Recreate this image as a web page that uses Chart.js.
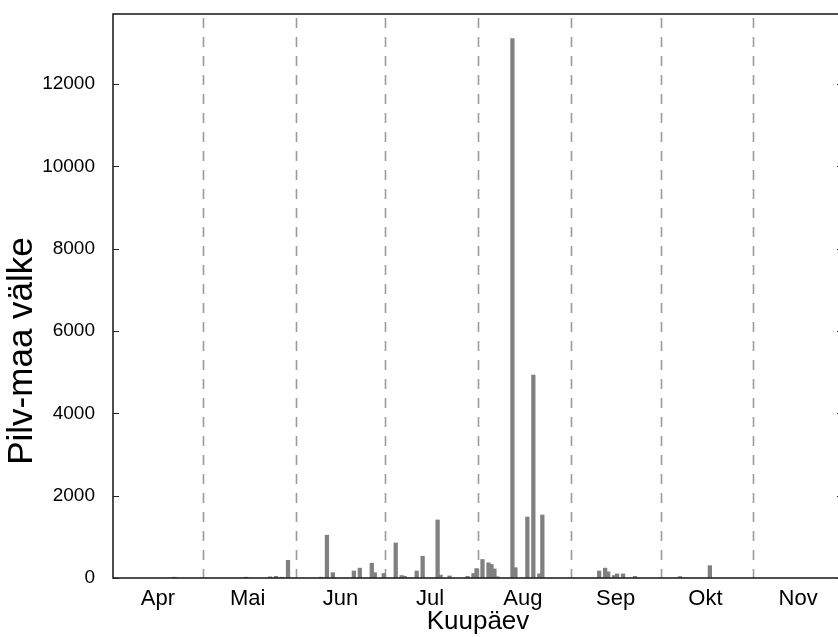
<!DOCTYPE html>
<html>
<head>
<meta charset="utf-8">
<script src="https://cdn.jsdelivr.net/npm/chart.js@4.4.1/dist/chart.umd.min.js"></script>
<style>
  html, body { margin: 0; padding: 0; background: #fff; overflow: hidden; }
  #wrap { width: 844px; height: 637px; }
</style>
</head>
<body>
<div id="wrap"><canvas id="valkChart" width="844" height="637"></canvas></div>
<script>
// Päevad (kuu-päev), millel oli pilv-maa välke
const kuupaevad = [
  '04-21', '05-15', '05-23', '05-25', '05-27', '05-29',
  '06-09', '06-11', '06-13', '06-20', '06-22', '06-26', '06-27', '06-30',
  '07-04', '07-06', '07-07', '07-11', '07-13', '07-18', '07-19', '07-22',
  '07-28', '07-30', '07-31',
  '08-02', '08-04', '08-05', '08-06', '08-07', '08-12', '08-13', '08-17',
  '08-19', '08-21', '08-22',
  '09-10', '09-12', '09-13', '09-15', '09-16', '09-18', '09-22',
  '10-07', '10-17'
];
const valked = [
  20, 20, 30, 40, 20, 430,
  20, 1040, 130, 170, 240, 360, 130, 110,
  850, 60, 40, 170, 530, 1410, 70, 50,
  40, 110, 230,
  450, 370, 330, 220, 30, 13100, 250, 1480,
  4930, 100, 1530,
  170, 240, 150, 60, 100, 100, 40,
  35, 300
];

// Kuud x-teljel ja kuude algused (katkendjooned)
const kuud = ['Apr', 'Mai', 'Jun', 'Jul', 'Aug', 'Sep', 'Okt', 'Nov'];
const kuuAlgused = ['04-01', '05-01', '06-01', '07-01', '08-01', '09-01', '10-01', '11-01', '12-01'];
const yTicks = [0, 2000, 4000, 6000, 8000, 10000, 12000];

// Päevade arv alates 1. aprillist
function paevAlates(md) {
  const [m, d] = md.split('-').map(Number);
  return (Date.UTC(2014, m - 1, d) - Date.UTC(2014, 3, 1)) / 86400000;
}

const algusPaevad = kuuAlgused.map(paevAlates);
const kuuKeskpaigad = kuud.map((k, i) => algusPaevad[i] + 15);
const punktid = kuupaevad.map((md, i) => ({ x: paevAlates(md) + 0.5, y: valked[i] }));

const FONT = 'Liberation Sans, Arial, sans-serif';

// Raam, sissepoole tikid, katkendjooned ja telgede pealkirjad
const raamPlugin = {
  id: 'raam',
  beforeDatasetsDraw(chart) {
    const { ctx, chartArea: a, scales } = chart;
    ctx.save();
    ctx.strokeStyle = 'rgba(130,130,130,0.8)';
    ctx.lineWidth = 1.6;
    ctx.setLineDash([10, 9]);
    algusPaevad.slice(1, -1).forEach((d) => {
      const x = Math.round(scales.x.getPixelForValue(d)) + 0.5;
      ctx.beginPath();
      ctx.moveTo(x, a.top + 4);
      ctx.lineTo(x, a.bottom);
      ctx.stroke();
    });
    ctx.restore();
  },
  afterDraw(chart) {
    const { ctx, chartArea: a, scales } = chart;
    ctx.save();
    ctx.strokeStyle = '#222';
    ctx.lineWidth = 1.6;
    ctx.strokeRect(a.left, a.top, a.right - a.left, a.bottom - a.top);
    ctx.lineWidth = 1.2;
    yTicks.forEach((v) => {
      const y = Math.round(scales.y.getPixelForValue(v)) + 0.5;
      ctx.beginPath();
      ctx.moveTo(a.left, y);
      ctx.lineTo(a.left + 6, y);
      ctx.moveTo(a.right, y);
      ctx.lineTo(a.right - 6, y);
      ctx.stroke();
    });
    ctx.fillStyle = '#000';
    ctx.textAlign = 'center';
    ctx.textBaseline = 'middle';
    ctx.font = '26px ' + FONT;
    ctx.fillText('Kuupäev', (a.left + a.right) / 2, 622);
    ctx.font = '35px ' + FONT;
    ctx.translate(22, 351);
    ctx.rotate(-Math.PI / 2);
    ctx.fillText('Pilv-maa välke', 0, 0);
    ctx.restore();
  }
};

const ctx = document.getElementById('valkChart').getContext('2d');

const chart = new Chart(ctx, {
  type: 'bar',
  data: {
    datasets: [{
      label: 'Pilv-maa välke',
      data: punktid,
      backgroundColor: '#808080',
      borderWidth: 0,
      barThickness: 3.6
    }]
  },
  options: {
    responsive: false,
    animation: false,
    layout: { padding: { top: 14, left: 0, right: 1, bottom: 0 } },
    plugins: { legend: { display: false }, tooltip: { enabled: false } },
    scales: {
      x: {
        type: 'linear',
        offset: false,
        min: 0,
        max: algusPaevad[algusPaevad.length - 1],
        grid: { display: false },
        border: { display: false },
        afterBuildTicks: (scale) => { scale.ticks = kuuKeskpaigad.map((v) => ({ value: v })); },
        afterFit: (scale) => { scale.height = 59; scale.paddingLeft = 0; scale.paddingRight = 0; },
        ticks: {
          autoSkip: false,
          maxRotation: 0,
          padding: 0,
          color: '#000',
          font: { family: FONT, size: 22 },
          callback: (value, index) => kuud[index]
        }
      },
      y: {
        min: 0,
        max: 13700,
        grid: { display: false },
        border: { display: false },
        afterBuildTicks: (scale) => { scale.ticks = yTicks.map((v) => ({ value: v })); },
        afterFit: (scale) => { scale.width = 113; scale.paddingTop = 0; scale.paddingBottom = 0; },
        ticks: {
          padding: 10,
          color: '#000',
          font: { family: FONT, size: 19 },
          callback: (value) => String(value)
        }
      }
    }
  },
  plugins: [raamPlugin]
});
</script>
</body>
</html>
